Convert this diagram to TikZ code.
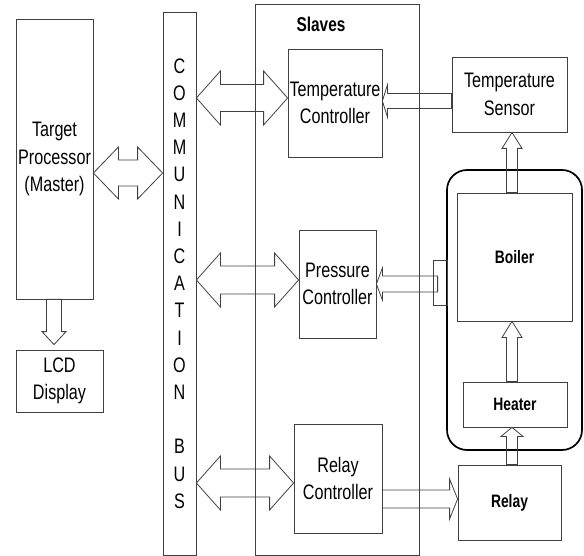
\documentclass[tikz,border=0pt]{standalone}
\usepackage{fontspec}
\setmainfont{Liberation Sans}[FakeStretch=0.77]
\usetikzlibrary{calc}
\newcommand\hollowsingle[5]{% tail, tip, head length, head half width, shaft half width
  \coordinate (hh) at ($(#2)!#3!(#1)$);
  \draw[arr] (#2) -- ($(hh)!#4!90:(#1)$) -- ($(hh)!#5!90:(#1)$) -- ($(#1)!#5!-90:(hh)$)
    -- ($(#1)!#5!90:(hh)$) -- ($(hh)!#5!-90:(#1)$) -- ($(hh)!#4!-90:(#1)$) -- cycle;
}
\newcommand\hollowdouble[5]{% end A, end B, head length, head half width, shaft half width
  \coordinate (ha) at ($(#1)!#3!(#2)$);
  \coordinate (hb) at ($(#2)!#3!(#1)$);
  \draw[arr] (#1) -- ($(ha)!#4!90:(#2)$) -- ($(ha)!#5!90:(#2)$) -- ($(hb)!#5!-90:(#1)$)
    -- ($(hb)!#4!-90:(#1)$) -- (#2) -- ($(hb)!#4!90:(#1)$) -- ($(hb)!#5!90:(#1)$)
    -- ($(ha)!#5!-90:(#2)$) -- ($(ha)!#4!-90:(#2)$) -- cycle;
}
\begin{document}
\begin{tikzpicture}[x=1pt,y=-1pt,
  box/.style={draw=black!75, line width=0.8pt, inner sep=0pt, align=center,
    font=\fontsize{21}{27.5}\selectfont},
  boldbox/.style={box, font=\fontsize{18}{20}\selectfont\bfseries},
  arr/.style={draw=black!75, line width=0.8pt, line join=miter},
  tank/.style={draw=black, line width=1.7pt, rounded corners=20pt, inner sep=0pt}
]
\useasboundingbox (0,0) rectangle (584,556);

% containers
\node[box, minimum width=164pt, minimum height=551pt] (slaves) at (337,279.5) {};
\node[font=\fontsize{20}{24}\selectfont\bfseries, inner sep=0pt] (slvlbl) at (321,24) {Slaves};
\node[tank, minimum width=135pt, minimum height=280pt] (tank) at (514.5,310) {};

% blocks
\node[box, minimum width=77pt, minimum height=280pt] (proc) at (54.5,159) {Target\\Processor\\(Master)};
\node[box, minimum width=87pt, minimum height=62pt] (lcd) at (59.5,381) {LCD\\Display};
\node[box, minimum width=33pt, minimum height=543pt, font=\fontsize{21}{27.2}\selectfont] (bus) at (179.5,283.5)
  {C\\O\\M\\M\\U\\N\\I\\C\\A\\T\\I\\O\\N\\[27.2pt]B\\U\\S};
\node[box, minimum width=94pt, minimum height=108pt] (tc) at (335,103) {Temperature\\Controller};
\node[box, minimum width=77pt, minimum height=108pt] (pc) at (337.5,284) {Pressure\\Controller};
\node[box, minimum width=88pt, minimum height=109pt] (rc) at (338,478.5) {Relay\\Controller};
\node[box, minimum width=115pt, minimum height=75pt] (ts) at (509.5,94.5) {Temperature\\Sensor};
\node[boldbox, minimum width=115pt, minimum height=128pt] (boiler) at (514.5,257) {Boiler};
\node[boldbox, minimum width=104pt, minimum height=45pt] (heater) at (515,404.5) {Heater};
\node[boldbox, minimum width=103pt, minimum height=75pt] (relay) at (509.5,502.5) {Relay};
\node[box, minimum width=14pt, minimum height=45pt] (tap) at (440,282.5) {};

% connector end points
\coordinate (pA) at (proc.east |- 0,173);   \coordinate (pB) at (bus.west |- 0,173);
\coordinate (tA) at (bus.east |- 0,98);     \coordinate (tB) at (tc.west |- 0,98);
\coordinate (qA) at (bus.east |- 0,280);    \coordinate (qB) at (pc.west |- 0,280);
\coordinate (rA) at (bus.east |- 0,483);    \coordinate (rB) at (rc.west |- 0,483);
\coordinate (tsT) at (ts.west |- 0,101);    \coordinate (tsH) at (tc.east |- 0,101);
\coordinate (tapT) at ($(tap.west |- 0,284)+(5,0)$); \coordinate (tapH) at (pc.east |- 0,284);
\coordinate (rcT) at (rc.east |- 0,499);    \coordinate (rcH) at (relay.west |- 0,499);
\coordinate (bT) at (512,0 |- boiler.north); \coordinate (bH) at (512,0 |- ts.south);
\coordinate (hT) at (512,0 |- heater.north); \coordinate (hH) at (512,0 |- boiler.south);
\coordinate (yT) at (512,0 |- relay.north);  \coordinate (yH) at (512,0 |- heater.south);
\coordinate (lT) at (54,0 |- proc.south);    \coordinate (lH) at ($(54,0 |- lcd.north)+(0,-5)$);

% connectors
\hollowdouble{pA}{pB}{25pt}{26pt}{13pt}
\hollowdouble{tA}{tB}{24pt}{27pt}{13.5pt}
\hollowdouble{qA}{qB}{24pt}{27pt}{14pt}
\hollowdouble{rA}{rB}{24pt}{27pt}{14pt}
\hollowsingle{tsT}{tsH}{5pt}{16pt}{7.5pt}
\hollowsingle{tapT}{tapH}{6pt}{16pt}{8pt}
\hollowsingle{rcT}{rcH}{8pt}{20pt}{9pt}
\hollowsingle{bT}{bH}{16pt}{10pt}{5.5pt}
\hollowsingle{hT}{hH}{16pt}{10pt}{5.5pt}
\hollowsingle{yT}{yH}{9pt}{11pt}{5.5pt}
\hollowsingle{lT}{lH}{13pt}{12pt}{7.5pt}
\end{tikzpicture}
\end{document}
